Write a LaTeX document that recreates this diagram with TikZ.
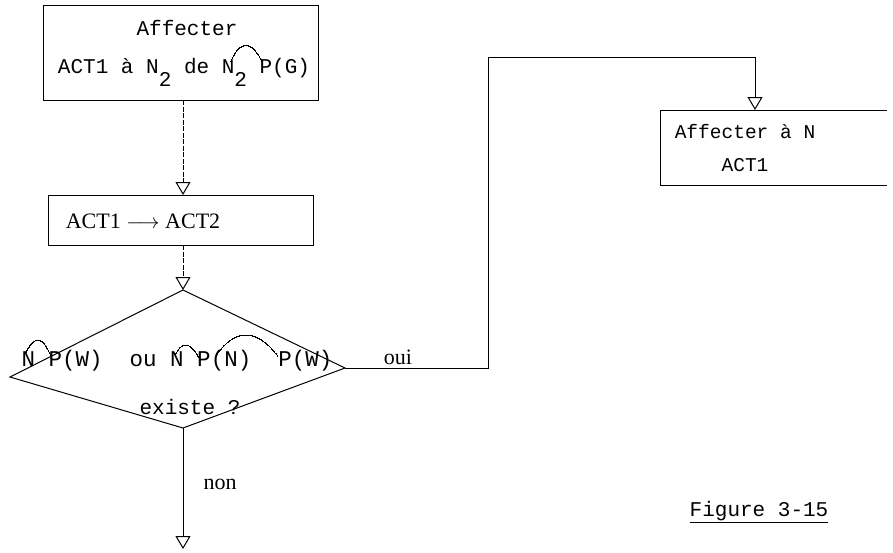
\documentclass[tikz,border=0pt]{standalone}
\usepackage{fontspec}
\setmainfont{Liberation Serif}
\setmonofont{Liberation Mono}
\usetikzlibrary{arrows.meta,calc}
\setlength{\unitlength}{1pt}
\newcommand\lien[6]{\begin{picture}(0,0)\linethickness{0.9pt}\qbezier(#1,#2)(#3,#4)(#5,#6)\end{picture}}
\newcommand\subtw[1]{\raisebox{-13pt}{#1}}
\begin{document}
\begin{tikzpicture}[x=1pt,y=-1pt,line width=1pt,
  mono/.style={font=\fontsize{21}{25}\selectfont\ttfamily,inner sep=0pt,anchor=base},
  monob/.style={font=\fontsize{22.5}{26}\selectfont\ttfamily,inner sep=0pt,anchor=base},
  monos/.style={font=\fontsize{19.5}{23}\selectfont\ttfamily,inner sep=0pt,anchor=base},
  roman/.style={font=\fontsize{22}{26}\selectfont\rmfamily,inner sep=0pt,anchor=base},
  boxstyle/.style={draw,inner sep=0pt,outer sep=0pt},
  dashline/.style={line width=0.8pt,dash pattern=on 5pt off 1.5pt},
  tipopen/.style={-{Triangle[open,length=13pt,width=15pt,line width=1pt]}}]
\useasboundingbox (0,0) rectangle (893,552);

% boxes
\node[boxstyle,minimum width=275pt,minimum height=95pt] (b1) at (180.5,52.5) {};
\node[boxstyle,minimum width=265pt,minimum height=50pt] (b2) at (180.5,220) {};
\node[inner sep=0pt,outer sep=0pt,minimum width=227pt,minimum height=75pt] (b3) at (773.5,147.5) {};
\draw (b3.north east) -- (b3.north west) -- (b3.south west) -- (b3.south east);
% decision (diamond)
\coordinate (dtop) at (183,290);
\coordinate (dright) at (345,368);
\coordinate (dbot) at (183,428);
\coordinate (dleft) at (10,377);
\draw (dtop) -- (dright) -- (dbot) -- (dleft) -- cycle;

% texts
\node[mono] (t1a) at (187,35) {Affecter};
\node[mono] (t1b) at (184,73) {ACT1 à N\subtw{2} de \lien{9}{12}{24}{44}{41}{10}N\subtw{2} P(G)};
\node[roman] (t2) at (143,228) {ACT1 $\longrightarrow$ ACT2};
\node[monos] (t3a) at (745,138) {Affecter à N};
\node[monos] (t3b) at (745,171) {ACT1};
\node[monob] (td1) at (177,366) {\lien{4}{13}{17}{40}{29}{10}N P(W)\ \ ou \lien{5}{11}{15}{32}{28}{9}N P\lien{5}{10}{34}{52}{67}{10}(N)\ \ P(W)};
\node[mono] (td2) at (190,414) {existe ?};
\node[roman] (oui) at (398,364) {oui};
\node[roman] (non) at (220,489) {non};
\node[mono] (fig) at (759,516) {\underline{Figure 3-15}};

% connectors
\coordinate (c1) at (488,57);
\coordinate (b3in) at ($(b3.north west)+(95,0)$);
\coordinate (fin) at (183,549);
\draw[dashline,tipopen] (b1.south -| dtop) -- (b2.north -| dtop);
\draw[dashline,tipopen] (b2.south -| dtop) -- (dtop);
\draw[tipopen] (dright) -| (c1) -| (b3in);
\draw[tipopen] (dbot) -- (fin);
\end{tikzpicture}
\end{document}
